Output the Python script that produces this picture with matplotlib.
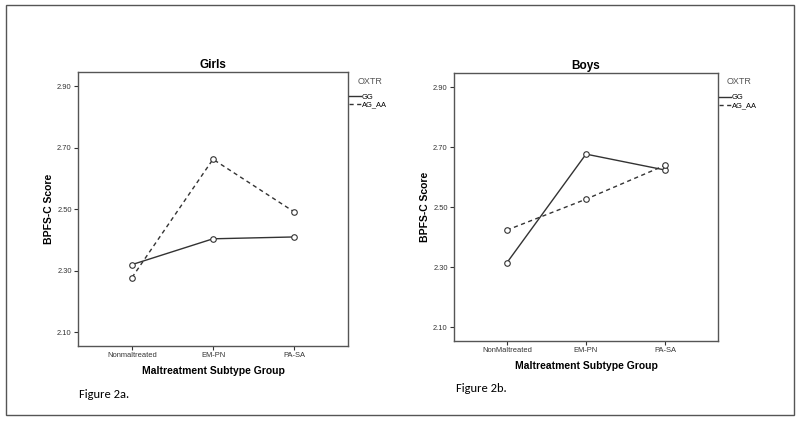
import matplotlib
matplotlib.use("Agg")
import matplotlib.pyplot as plt
from matplotlib.patches import Rectangle

plt.rcParams['font.family'] = ['Liberation Sans', 'DejaVu Sans']

groups_girls = ["Nonmaltreated", "EM-PN", "PA-SA"]
groups_boys = ["NonMaltreated", "EM-PN", "PA-SA"]
genotypes = ["GG", "AG_AA"]

girls_gg = [2.320, 2.404, 2.410]
girls_ag_aa = [2.278, 2.663, 2.492]
boys_gg = [2.315, 2.677, 2.624]
boys_ag_aa = [2.424, 2.527, 2.640]

yticks = [2.10, 2.30, 2.50, 2.70, 2.90]

line_col = "#333333"
frame_col = "#555555"


def draw_panel(ax, title, groups, gg, ag):
    x = list(range(len(groups)))
    h1, = ax.plot(x, gg, '-', color=line_col, lw=1.0, marker='o', ms=4,
                  mfc='white', mec=line_col, mew=0.8)
    h2, = ax.plot(x, ag, '--', color=line_col, lw=1.0, marker='o', ms=4,
                  mfc='white', mec=line_col, mew=0.8, dashes=(3, 2.5))
    ax.set_xlim(-0.667, 2.667)
    ax.set_ylim(2.055, 2.947)
    ax.set_yticks(yticks)
    ax.set_yticklabels(["%.2f" % v for v in yticks])
    ax.set_xticks(x)
    ax.set_xticklabels(groups)
    ax.tick_params(axis='both', labelsize=5.4, length=3, width=0.8,
                   colors='#333333', pad=1.5)
    for s in ax.spines.values():
        s.set_color(frame_col)
        s.set_linewidth(1.0)
    ax.set_title(title, fontsize=8.5, fontweight='bold', pad=3)
    ax.set_xlabel("Maltreatment Subtype Group", fontsize=7.5, fontweight='bold',
                  labelpad=5)
    ax.set_ylabel("BPFS-C Score", fontsize=7.5, fontweight='bold', labelpad=2)
    # legend title sits apart from the entries, so it is its own text
    ax.text(1.08, 0.967, "OXTR", transform=ax.transAxes, fontsize=6.5,
            color='#555555', ha='center', va='center')
    leg = ax.legend([h1, h2], genotypes, loc='upper left',
                    bbox_to_anchor=(1.003, 0.922), frameon=False, fontsize=5.4,
                    handlelength=1.6, handletextpad=0.15,
                    labelspacing=0.1, borderaxespad=0, borderpad=0)
    for line in leg.get_lines():
        line.set_marker('')


fig = plt.figure(figsize=(8, 4.21), dpi=100)

ax1 = fig.add_axes([78 / 800, 1 - 346 / 421, 270 / 800, 274 / 421])
draw_panel(ax1, "Girls", groups_girls, girls_gg, girls_ag_aa)

ax2 = fig.add_axes([454 / 800, 1 - 341 / 421, 264 / 800, 268 / 421])
draw_panel(ax2, "Boys", groups_boys, boys_gg, boys_ag_aa)

fig.text(79 / 800, 1 - 394 / 421, "Figure 2a.", fontsize=9, va='center',
         family=['Carlito', 'Liberation Sans', 'DejaVu Sans'])
fig.text(456 / 800, 1 - 388 / 421, "Figure 2b.", fontsize=9, va='center',
         family=['Carlito', 'Liberation Sans', 'DejaVu Sans'])

fig.patches.append(Rectangle((6 / 800, 1 - 415 / 421), 788 / 800, 410 / 421,
                             transform=fig.transFigure, fill=False,
                             edgecolor=frame_col, lw=1.0))

fig.savefig("out.png", dpi=100)
